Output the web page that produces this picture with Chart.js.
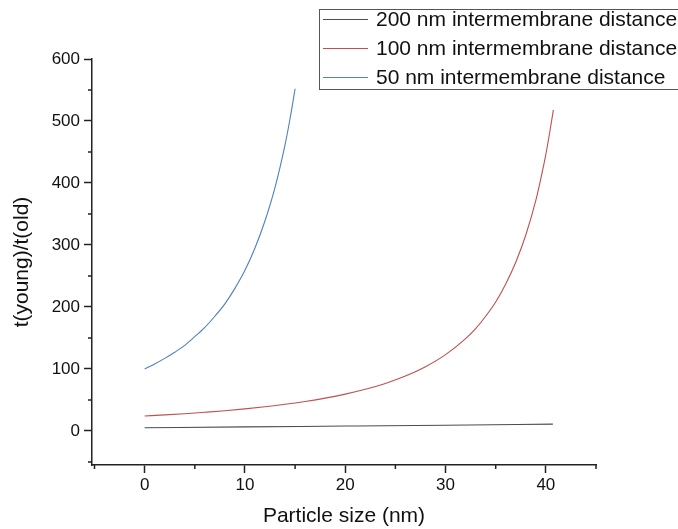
<!DOCTYPE html>
<html>
<head>
<meta charset="utf-8">
<script src="https://cdn.jsdelivr.net/npm/chart.js@4.4.1/dist/chart.umd.min.js"></script>
<style>
  body { margin: 0; background: #fff; }
  canvas { display: block; }
</style>
</head>
<body>
<canvas id="chart" width="678" height="529"></canvas>
<script>
// series
const seriesNames = ['200 nm intermembrane distance', '100 nm intermembrane distance', '50 nm intermembrane distance'];

const size200 = [0, 10, 20, 30, 40.7];
const ratio200 = [5, 6.5, 7.8, 9.2, 11];

const size100 = [0, 2, 4, 6, 8, 10, 12, 14, 16, 18, 20, 22, 24, 26, 28, 30, 32, 33, 34, 35, 36, 37, 38, 39, 39.5, 40, 40.4, 40.75];
const ratio100 = [24, 25.8, 27.8, 30.1, 32.6, 35.6, 39, 42.9, 47.5, 52.9, 59.3, 67.1, 76.6, 88.5, 103.5, 123, 149, 165, 185, 208, 237, 272, 316, 372, 407, 446, 483, 518];

const size50 = [0, 1, 2, 3, 4, 5, 6, 7, 8, 9, 10, 11, 12, 13, 14, 14.5, 15];
const ratio50 = [100, 108, 117, 127, 138, 152, 167, 185, 205, 230, 259, 295, 339, 393, 462, 504, 552];

const xTicks = [0, 10, 20, 30, 40];
const yTicks = [0, 100, 200, 300, 400, 500, 600];
const xMinor = [-5, 5, 15, 25, 35, 45];
const yMinor = [-50, 50, 150, 250, 350, 450, 550];

const colors = ['#4d4d4d', '#c0504d', '#4f81bd'];
const fontFamily = '"Liberation Sans", Arial, sans-serif';
const axisColor = '#222';

function points(xs, ys) {
    return xs.map((x, i) => ({ x: x, y: ys[i] }));
}

// small outward minor ticks, Origin style
const minorTicks = {
    id: 'minorTicks',
    afterDraw(chart) {
        const ctx = chart.ctx;
        const xs = chart.scales.x;
        const ys = chart.scales.y;
        ctx.save();
        ctx.strokeStyle = axisColor;
        ctx.lineWidth = 1.5;
        ctx.beginPath();
        xMinor.forEach(v => {
            const px = xs.getPixelForValue(v);
            ctx.moveTo(px, xs.top);
            ctx.lineTo(px, xs.top + 4);
        });
        yMinor.forEach(v => {
            const py = ys.getPixelForValue(v);
            ctx.moveTo(ys.right, py);
            ctx.lineTo(ys.right - 4, py);
        });
        ctx.stroke();
        ctx.restore();
    }
};

// boxed legend at top right
const boxLegend = {
    id: 'boxLegend',
    afterDraw(chart) {
        const ctx = chart.ctx;
        const left = 319, top = 9, bottom = 89;
        const rows = [19, 48, 77];
        ctx.save();
        ctx.fillStyle = '#fff';
        ctx.fillRect(left, top, 400, bottom - top);
        ctx.strokeStyle = '#555';
        ctx.lineWidth = 1;
        ctx.strokeRect(left + 0.5, top + 0.5, 400, bottom - top);
        ctx.font = '21px ' + fontFamily;
        ctx.textBaseline = 'middle';
        seriesNames.forEach((name, i) => {
            ctx.strokeStyle = colors[i];
            ctx.lineWidth = 1;
            ctx.beginPath();
            ctx.moveTo(323, rows[i] + 0.5);
            ctx.lineTo(368, rows[i] + 0.5);
            ctx.stroke();
            ctx.fillStyle = '#111';
            ctx.fillText(name, 376, rows[i] + 1);
        });
        ctx.restore();
    }
};

new Chart(document.getElementById('chart'), {
    type: 'line',
    data: {
        datasets: [
            { label: seriesNames[0], data: points(size200, ratio200) },
            { label: seriesNames[1], data: points(size100, ratio100) },
            { label: seriesNames[2], data: points(size50, ratio50) }
        ].map((ds, i) => Object.assign(ds, {
            borderColor: colors[i],
            borderWidth: 1.1,
            pointRadius: 0,
            fill: false,
            cubicInterpolationMode: 'monotone'
        }))
    },
    options: {
        responsive: false,
        animation: false,
        layout: { padding: { left: 0, right: 82, top: 59, bottom: 0 } },
        plugins: {
            legend: { display: false },
            tooltip: { enabled: false }
        },
        scales: {
            x: {
                type: 'linear',
                min: -5.25,
                max: 45,
                afterBuildTicks: s => { s.ticks = xTicks.map(v => ({ value: v })); },
                afterFit: s => { s.height = 64; },
                border: { display: true, color: axisColor, width: 1.5 },
                grid: { drawOnChartArea: false, drawTicks: true, tickLength: 8, tickColor: axisColor, tickWidth: 1.5 },
                ticks: { color: '#111', padding: 2, font: { family: fontFamily, size: 17 } },
                title: {
                    display: true,
                    text: 'Particle size (nm)',
                    color: '#111',
                    padding: { top: 0, bottom: 0 },
                    font: { family: fontFamily, size: 21 }
                }
            },
            y: {
                min: -55,
                max: 600,
                afterBuildTicks: s => { s.ticks = yTicks.map(v => ({ value: v })); },
                afterFit: s => { s.width = 92; },
                border: { display: true, color: axisColor, width: 1.5 },
                grid: { drawOnChartArea: false, drawTicks: true, tickLength: 8, tickColor: axisColor, tickWidth: 1.5 },
                ticks: { color: '#111', padding: 4, font: { family: fontFamily, size: 17 } },
                title: {
                    display: true,
                    text: 't(young)/t(old)',
                    color: '#111',
                    padding: { top: 10, bottom: 0 },
                    font: { family: fontFamily, size: 21 }
                }
            }
        }
    },
    plugins: [minorTicks, boxLegend]
});
</script>
</body>
</html>
